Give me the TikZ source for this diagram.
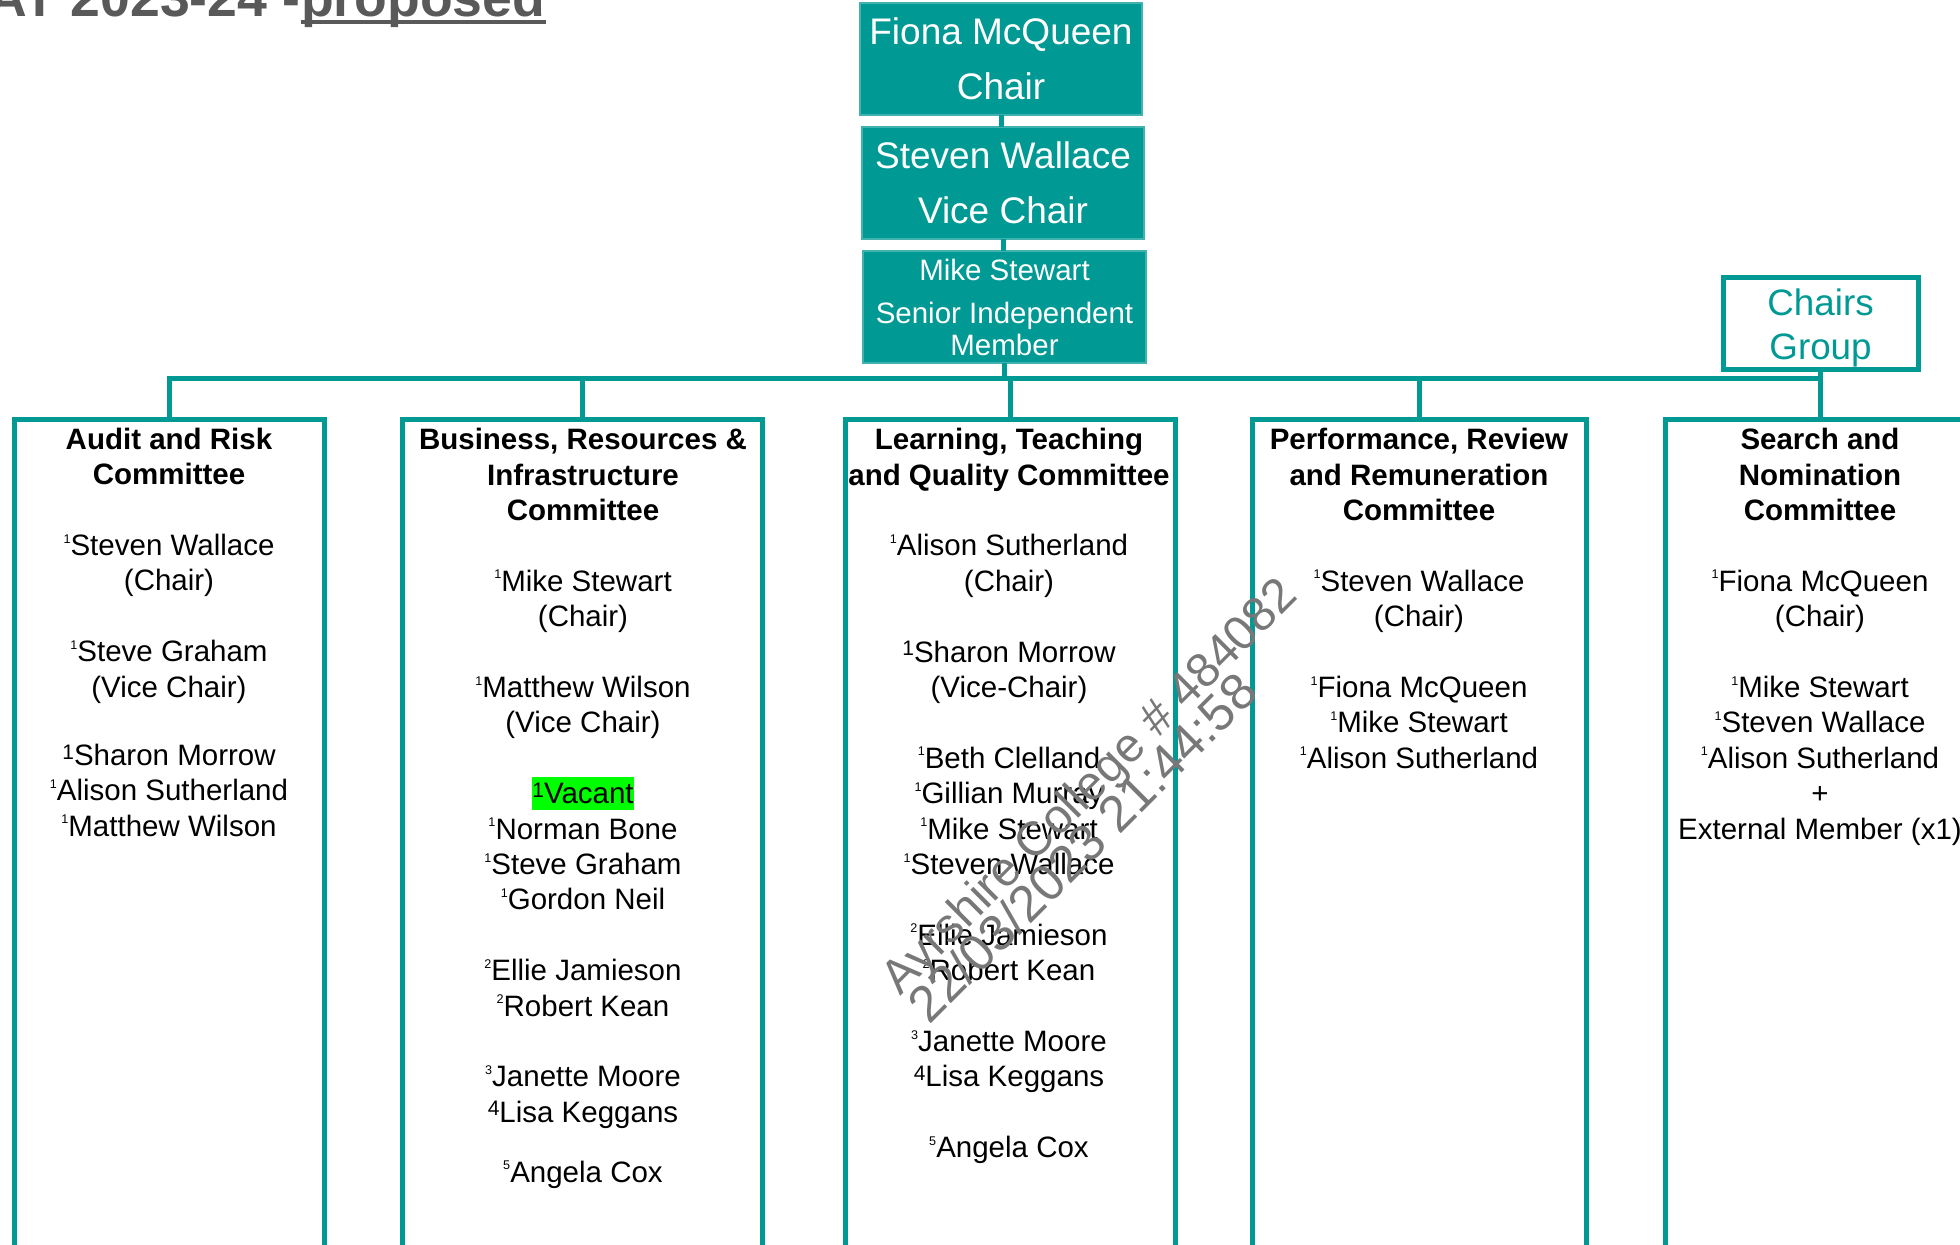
\documentclass[tikz,border=0pt]{standalone}
\usepackage{fontspec}
\setmainfont{Liberation Sans}
\definecolor{tealc}{RGB}{0,153,148}
\definecolor{hlgreen}{RGB}{0,255,0}
\definecolor{titlegray}{RGB}{89,89,89}
\definecolor{wmgray}{RGB}{120,120,120}
\newcommand\ssup[1]{\raisebox{6.2pt}{\fontsize{6.3pt}{6.3pt}\selectfont #1}}
\newcommand\bsup[1]{\raisebox{3.2pt}{\fontsize{10.5pt}{10.5pt}\selectfont #1}}
\newcommand\hlbox[1]{{\setlength\fboxsep{0pt}\colorbox{hlgreen}{\rule[-0.212em]{0pt}{1.117em}#1}}}
\begin{document}
\begin{tikzpicture}[x=0.5pt,y=-0.5pt,
  conn/.style={draw=tealc, line width=2.5pt},
  topbox/.style={fill=tealc, draw=tealc!75!white, line width=0.6pt, text=white,
     minimum width=141pt, minimum height=56pt, inner sep=0pt, outer sep=0pt, align=center},
  combox/.style={draw=tealc, line width=2.5pt, minimum height=430pt, anchor=north, inner sep=0pt, outer sep=0pt},
  comtext/.style={anchor=north, align=center, inner sep=0pt, font=\fontsize{14.75pt}{17.7pt}\selectfont},
  wm/.style={anchor=base west, rotate=45, inner sep=0pt, text=wmgray},
  titletext/.style={anchor=base west, inner sep=0pt, text=titlegray, font=\bfseries\fontsize{26.8pt}{30pt}\selectfont}
]
\useasboundingbox (0,0) rectangle (1960,1244);
\clip (0,0) rectangle (1960,1244);

% title
\node[titletext] (t1) at (-12,16) {AT 2023-24 -};
\node[titletext] (t2) at (t1.base east) {proposed};
\draw[titlegray, line width=2pt] ([yshift=-3pt]t2.base west) -- ([yshift=-3pt]t2.base east);

% top boxes
\node[topbox, font=\fontsize{18.5pt}{27.5pt}\selectfont] (chair) at (1001,59) {Fiona McQueen\\Chair};
\node[topbox, font=\fontsize{18.5pt}{27.5pt}\selectfont] (vice) at (1003,183) {Steven Wallace\\Vice Chair};
\node[topbox, minimum width=141.5pt, font=\fontsize{14.75pt}{21.5pt}\selectfont] (sim) at (1004.5,307) {Mike Stewart\\Senior Independent\\[-5.5pt]Member};

% chairs group
\node[draw=tealc, line width=2.5pt, minimum width=97.5pt, minimum height=46pt, inner sep=0pt, outer sep=0pt] (chairs) at (1820.5,323) {};
\node[align=center, inner sep=0pt, text=tealc, font=\fontsize{18.4pt}{22pt}\selectfont] (chairsT) at (1820.5,328) {Chairs\\Group};

% committee boxes
\node[combox, minimum width=155pt] (audit) at (169,419) {};
\node[combox, minimum width=180pt] (bri) at (582,419) {};
\node[combox, minimum width=165pt] (ltq) at (1010,419) {};
\node[combox, minimum width=167pt] (prr) at (1419,419) {};
\node[combox, minimum width=155pt] (snc) at (1820,419) {};

% connectors
\coordinate (bus) at (0,378);
\draw[conn] (chair.south) -- (chair.south |- vice.north);
\draw[conn] (vice.south) -- (vice.south |- sim.north);
\draw[conn] (sim.south) -- (sim.south |- bus);
\draw[conn] (audit.north) -- (audit.north |- bus) -- (snc.north |- bus) -- (snc.north);
\draw[conn] (bri.north |- bus) -- (bri.north);
\draw[conn] (ltq.north |- bus) -- (ltq.north);
\draw[conn] (prr.north |- bus) -- (prr.north);
\draw[conn] (chairs.south) -- (chairs.south |- bus);

% committee texts
\node[comtext] (auditT) at (169,427.5) {\textbf{Audit and Risk}\\\textbf{Committee}\\[17.7pt]
\ssup{1}Steven Wallace\\(Chair)\\[17.7pt]
\ssup{1}Steve Graham\\(Vice Chair)\\[16.5pt]
\bsup{1}Sharon Morrow\\\ssup{1}Alison Sutherland\\\ssup{1}Matthew Wilson};

\node[comtext] (briT) at (583,428) {\textbf{Business, Resources \&}\\\textbf{Infrastructure}\\\textbf{Committee}\\[17.7pt]
\ssup{1}Mike Stewart\\(Chair)\\[17.7pt]
\ssup{1}Matthew Wilson\\(Vice Chair)\\[17.7pt]
\hlbox{\bsup{1}Vacant}\\\ssup{1}Norman Bone\\\ssup{1}Steve Graham\\\ssup{1}Gordon Neil\\[17.7pt]
\ssup{2}Ellie Jamieson\\\ssup{2}Robert Kean\\[17.7pt]
\ssup{3}Janette Moore\\\bsup{4}Lisa Keggans\\[12.3pt]
\ssup{5}Angela Cox};

\node[comtext] (ltqT) at (1009,428) {\textbf{Learning, Teaching}\\\textbf{and Quality Committee}\\[17.7pt]
\ssup{1}Alison Sutherland\\(Chair)\\[17.7pt]
\bsup{1}Sharon Morrow\\(Vice-Chair)\\[17.7pt]
\ssup{1}Beth Clelland\\\ssup{1}Gillian Murray\\\ssup{1}Mike Stewart\\\ssup{1}Steven Wallace\\[17.7pt]
\ssup{2}Ellie Jamieson\\\ssup{2}Robert Kean\\[17.7pt]
\ssup{3}Janette Moore\\\bsup{4}Lisa Keggans\\[17.7pt]
\ssup{5}Angela Cox};

\node[comtext] (prrT) at (1419,428) {\textbf{Performance, Review}\\\textbf{and Remuneration}\\\textbf{Committee}\\[17.7pt]
\ssup{1}Steven Wallace\\(Chair)\\[17.7pt]
\ssup{1}Fiona McQueen\\\ssup{1}Mike Stewart\\\ssup{1}Alison Sutherland};

\node[comtext] (sncT) at (1820,428) {\textbf{Search and}\\\textbf{Nomination}\\\textbf{Committee}\\[17.7pt]
\ssup{1}Fiona McQueen\\(Chair)\\[17.7pt]
\ssup{1}Mike Stewart\\\ssup{1}Steven Wallace\\\ssup{1}Alison Sutherland\\+\\External Member (x1)};

% watermark
\node[wm, font=\fontsize{24pt}{28pt}\selectfont] (wm1) at (900,997) {Ayrshire College \# 484082};
\node[wm, font=\fontsize{25.5pt}{30pt}\selectfont] (wm2) at (929,1026) {22/03/2023 21:44:58};
\end{tikzpicture}
\end{document}
